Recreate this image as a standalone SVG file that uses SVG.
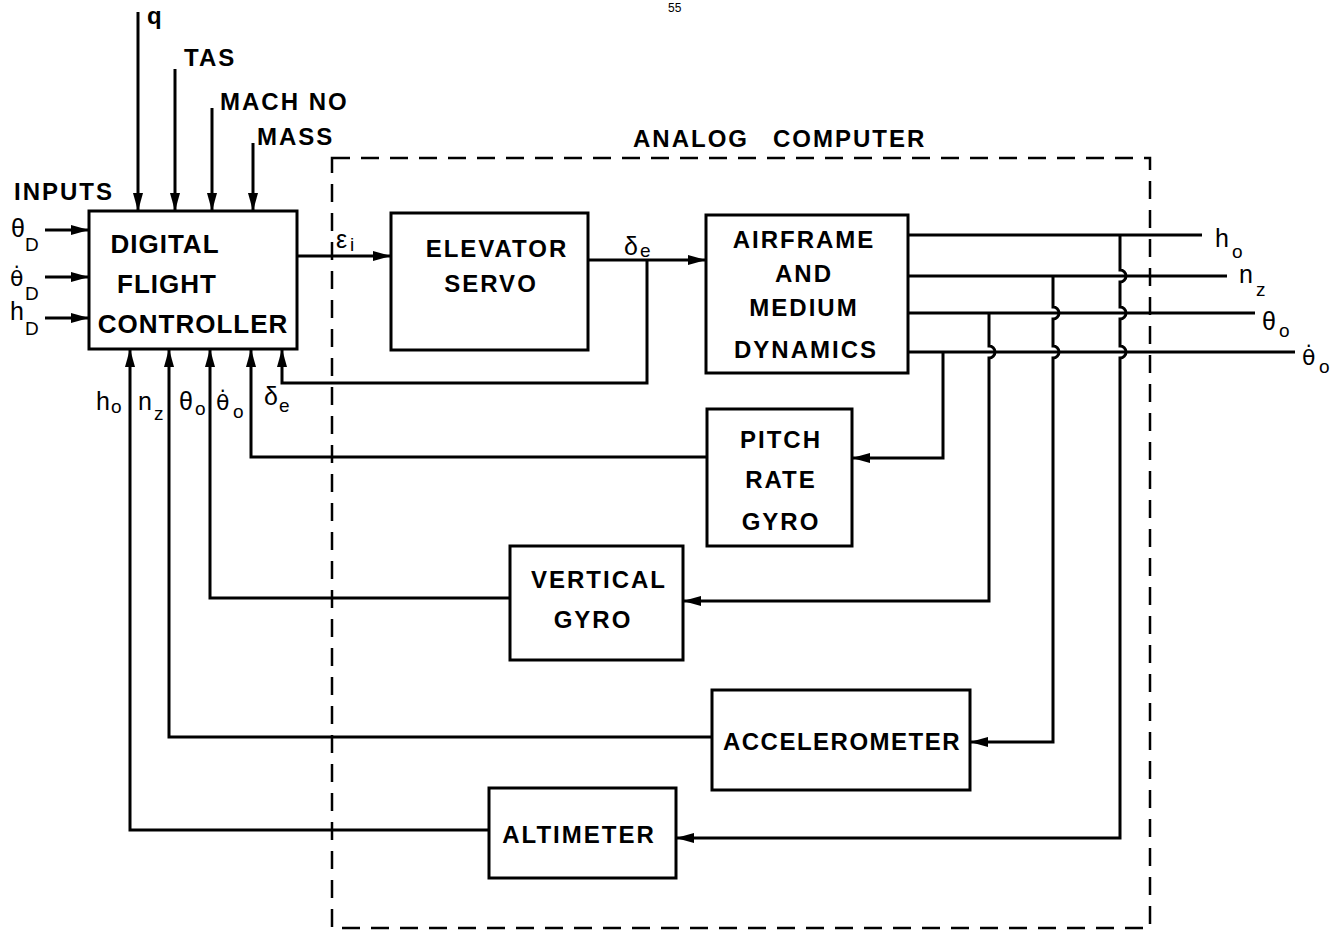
<svg xmlns="http://www.w3.org/2000/svg" width="1337" height="934" viewBox="0 0 1337 934">
<style>
.box{fill:none;stroke:#000;stroke-width:3}
.ln{fill:none;stroke:#000;stroke-width:3}
.dash{fill:none;stroke:#000;stroke-width:2.5;stroke-dasharray:18 11}
.t{font-family:"Liberation Sans",Arial,sans-serif;font-weight:bold;font-size:24px;letter-spacing:2px;fill:#000}
.tb{font-family:"Liberation Sans",Arial,sans-serif;font-weight:bold;font-size:26px;letter-spacing:1px;fill:#000}
.m{font-family:"Liberation Sans",Arial,sans-serif;font-size:25px;fill:#000}
.md{font-family:"DejaVu Sans",sans-serif;font-size:22px;fill:#000}
.s{font-family:"Liberation Sans",Arial,sans-serif;font-size:19px;fill:#000}
.pg{font-family:"Liberation Sans",Arial,sans-serif;font-size:12px;fill:#000}
</style>
<defs>
<marker id="ah" markerUnits="userSpaceOnUse" markerWidth="20" markerHeight="12" refX="18" refY="6" orient="auto" viewBox="0 0 20 12">
<path d="M0 1 L18 6 L0 11 Z" fill="#000"/>
</marker>
</defs>
<rect width="1337" height="934" fill="#fff"/>
<text class="pg" x="668" y="12">55</text>
<g id="analog-computer">
<rect class="dash" x="332" y="158" width="818" height="770"/>
<text class="t" x="633" y="147">ANALOG</text>
<text class="t" x="773" y="147">COMPUTER</text>
</g>
<g id="inputs">
<text class="t" x="14" y="200">INPUTS</text>
<text class="t" x="147" y="24">q</text>
<text class="t" x="184" y="66">TAS</text>
<text class="t" x="220" y="110">MACH NO</text>
<text class="t" x="257" y="145">MASS</text>
<text class="m" x="11" y="237">θ</text><text class="s" x="25" y="251">D</text>
<text class="md" x="10" y="286">θ̇</text><text class="s" x="25" y="300">D</text>
<text class="m" x="10" y="320">h</text><text class="s" x="25" y="335">D</text>
</g>
<g id="digital-flight-controller">
<rect class="box" x="89" y="211" width="208" height="138"/>
<text class="tb" x="165" y="253" text-anchor="middle">DIGITAL</text>
<text class="tb" x="167" y="293" text-anchor="middle">FLIGHT</text>
<text class="tb" x="193" y="333" text-anchor="middle">CONTROLLER</text>
</g>
<g id="elevator-servo">
<rect class="box" x="391" y="213" width="197" height="137"/>
<text class="t" x="497" y="257" text-anchor="middle">ELEVATOR</text>
<text class="t" x="491" y="292" text-anchor="middle">SERVO</text>
</g>
<g id="airframe">
<rect class="box" x="706" y="215" width="202" height="158"/>
<text class="t" x="804" y="248" text-anchor="middle">AIRFRAME</text>
<text class="t" x="804" y="282" text-anchor="middle">AND</text>
<text class="t" x="804" y="316" text-anchor="middle">MEDIUM</text>
<text class="t" x="806" y="358" text-anchor="middle">DYNAMICS</text>
</g>
<g id="pitch-rate-gyro">
<rect class="box" x="707" y="409" width="145" height="137"/>
<text class="t" x="781" y="448" text-anchor="middle">PITCH</text>
<text class="t" x="781" y="488" text-anchor="middle">RATE</text>
<text class="t" x="781" y="530" text-anchor="middle">GYRO</text>
</g>
<g id="vertical-gyro">
<rect class="box" x="510" y="546" width="173" height="114"/>
<text class="t" x="599" y="588" text-anchor="middle">VERTICAL</text>
<text class="t" x="593" y="628" text-anchor="middle">GYRO</text>
</g>
<g id="accelerometer">
<rect class="box" x="712" y="690" width="258" height="100"/>
<text class="t" x="842" y="750" text-anchor="middle" style="letter-spacing:1.5px">ACCELEROMETER</text>
</g>
<g id="altimeter">
<rect class="box" x="489" y="788" width="187" height="90"/>
<text class="t" x="579" y="843" text-anchor="middle">ALTIMETER</text>
</g>
<g id="connectors">
<path class="ln" d="M138 12 V211" marker-end="url(#ah)"/>
<path class="ln" d="M175 69 V211" marker-end="url(#ah)"/>
<path class="ln" d="M212 108 V211" marker-end="url(#ah)"/>
<path class="ln" d="M253 143 V211" marker-end="url(#ah)"/>
<path class="ln" d="M45 230 H89" marker-end="url(#ah)"/>
<path class="ln" d="M45 277 H89" marker-end="url(#ah)"/>
<path class="ln" d="M45 318 H89" marker-end="url(#ah)"/>
<path class="ln" d="M297 256 H391" marker-end="url(#ah)"/>
<path class="ln" d="M588 260 H706" marker-end="url(#ah)"/>
<path class="ln" d="M647 260 V383 H282 V349" marker-end="url(#ah)"/>
<path class="ln" d="M908 235 H1202"/>
<path class="ln" d="M908 276 H1227"/>
<path class="ln" d="M908 313 H1255"/>
<path class="ln" d="M908 352 H1295"/>
<path class="ln" d="M943 352 V458 H852" marker-end="url(#ah)"/>
<path class="ln" d="M989 313 V346 a6 6 0 0 1 0 12 V601 H683" marker-end="url(#ah)"/>
<path class="ln" d="M1053 276 V307 a6 6 0 0 1 0 12 V346 a6 6 0 0 1 0 12 V742 H970" marker-end="url(#ah)"/>
<path class="ln" d="M1120 235 V270 a6 6 0 0 1 0 12 V307 a6 6 0 0 1 0 12 V346 a6 6 0 0 1 0 12 V838 H676" marker-end="url(#ah)"/>
<path class="ln" d="M707 457 H251 V349" marker-end="url(#ah)"/>
<path class="ln" d="M510 598 H210 V349" marker-end="url(#ah)"/>
<path class="ln" d="M712 737 H169 V349" marker-end="url(#ah)"/>
<path class="ln" d="M489 830 H130 V349" marker-end="url(#ah)"/>
</g>
<g id="labels">
<text class="m" x="336" y="248">ε</text><text class="s" x="350" y="251">i</text>
<text class="m" x="624" y="255">δ</text><text class="s" x="640" y="257">e</text>
<text class="m" x="1215" y="247">h</text><text class="s" x="1232" y="258">o</text>
<text class="m" x="1239" y="283">n</text><text class="s" x="1256" y="296">z</text>
<text class="m" x="1262" y="330">θ</text><text class="s" x="1279" y="337">o</text>
<text class="md" x="1302" y="365">θ̇</text><text class="s" x="1319" y="373">o</text>
<text class="m" x="96" y="410">h</text><text class="s" x="111" y="413">o</text>
<text class="m" x="138" y="410">n</text><text class="s" x="154" y="420">z</text>
<text class="m" x="179" y="410">θ</text><text class="s" x="195" y="415">o</text>
<text class="md" x="216" y="410">θ̇</text><text class="s" x="233" y="418">o</text>
<text class="m" x="264" y="405">δ</text><text class="s" x="279" y="412">e</text>
</g>
</svg>
